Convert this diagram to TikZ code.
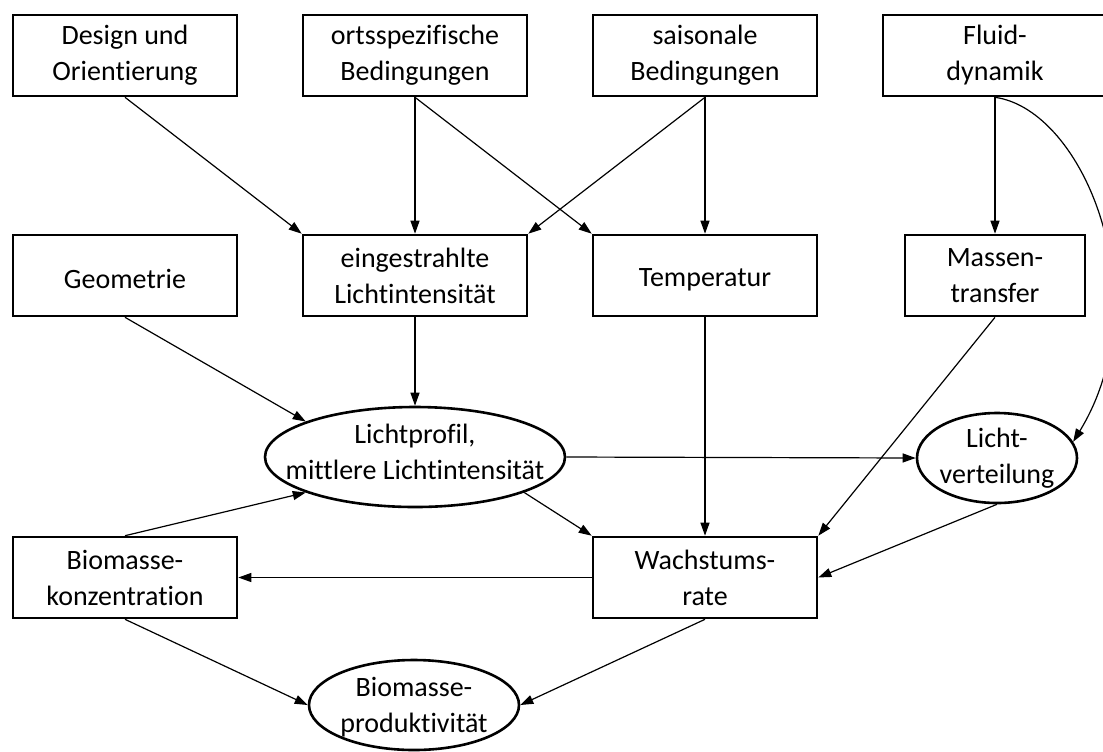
\documentclass[tikz,border=0pt]{standalone}
\usepackage{fontspec}
\setmainfont{Carlito}[Ligatures=NoCommon]
\usetikzlibrary{arrows.meta,shapes.geometric}
\begin{document}
\begin{tikzpicture}[x=0.5pt,y=-0.5pt,
  box/.style={draw,line width=1.3pt,minimum width=112pt,minimum height=40.5pt,inner sep=0pt,align=center,font=\fontsize{14pt}{18pt}\selectfont,execute at begin node={\rule{0pt}{13pt}}},
  ell/.style={draw,ellipse,line width=1.3pt,inner sep=0pt},
  txt/.style={align=center,inner sep=0pt,font=\fontsize{14pt}{18pt}\selectfont},
  arr/.style={line width=0.6pt,-{Triangle[length=6.5pt,width=4.5pt]}}]
\useasboundingbox (0,0) rectangle (1103,751);
\clip (0,0) rectangle (1103,751);
% row 1
\node[box] (design) at (125,55.5) {Design und\\Orientierung};
\node[box] (orts) at (415,55.5) {ortsspezifische\\Bedingungen};
\node[box] (sais) at (705,55.5) {saisonale\\Bedingungen};
\node[box] (fluid) at (995,55.5) {Fluid-\\dynamik};
% row 2
\node[box] (geo) at (125,275.5) {Geometrie};
\node[box] (ein) at (415,275.5) {eingestrahlte\\Lichtintensität};
\node[box] (temp) at (705,275.5) {Temperatur};
\node[box,minimum width=90pt] (mass) at (995,275.5) {Massen-\\transfer};
% ellipses
\node[ell,minimum width=150pt,minimum height=50pt] (lp) at (415,457) {};
\node[txt] (lpt) at (415,452) {Lichtprofil,\\mittlere Lichtintensität};
\node[ell,minimum width=80pt,minimum height=45pt] (lv) at (997,458) {};
\node[txt] (lvt) at (997,458) {Licht-\\verteilung};
% row 4
\node[box] (bio) at (125,577.5) {Biomasse-\\konzentration};
\node[box] (wr) at (705,577.5) {Wachstums-\\rate};
\node[ell,minimum width=105pt,minimum height=45pt] (prod) at (414,705) {};
\node[txt] (prodt) at (414,707) {Biomasse-\\produktivität};
% connectors
\draw[arr] (design.south) -- (ein.north west);
\draw[arr] (orts.south) -- (ein.north);
\draw[arr] (orts.south) -- (temp.north west);
\draw[arr] (sais.south) -- (ein.north east);
\draw[arr] (sais.south) -- (temp.north);
\draw[arr] (fluid.south) -- (mass.north);
\draw[arr] (fluid.south) .. controls (1085,110) and (1160,300) .. (lv.12);
\draw[arr] (geo.south) -- (lp.162);
\draw[arr] (ein.south) -- (lp.north);
\draw[arr] (temp.south) -- (wr.north);
\draw[arr] (mass.south) -- (wr.north east);
\draw[arr] (lp.east) -- (lv.west);
\draw[arr] (lp.-18) -- (wr.north west);
\draw[arr] (lv.south) -- (wr.east);
\draw[arr] (wr.west) -- (bio.east);
\draw[arr] (bio.north) -- (lp.198);
\draw[arr] (bio.south) -- (prod.west);
\draw[arr] (wr.south) -- (prod.east);
\end{tikzpicture}
\end{document}
